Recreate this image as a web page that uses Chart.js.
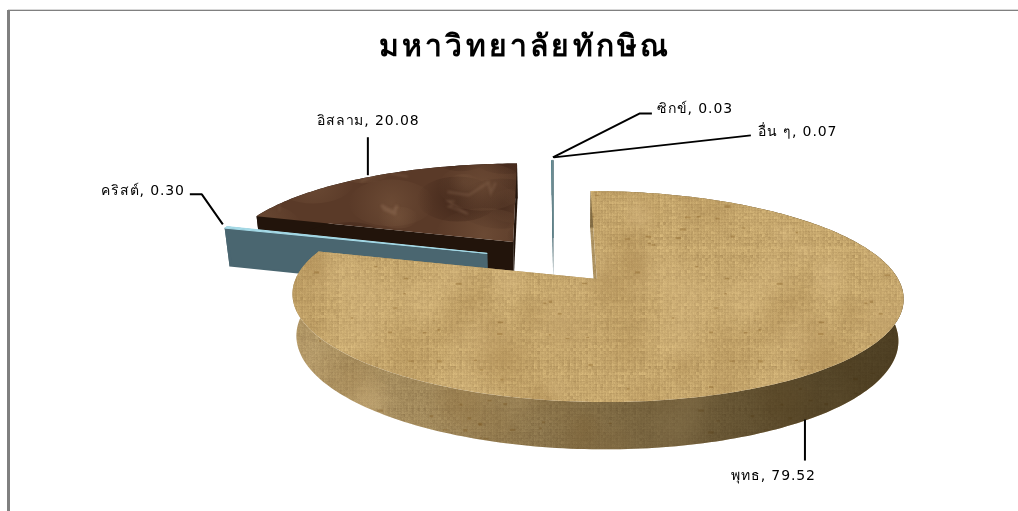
<!DOCTYPE html>
<html><head><meta charset="utf-8">
<style>html,body{margin:0;padding:0;background:#fff;overflow:hidden}#w{width:1018px;height:511px}</style>
<script src="https://cdn.jsdelivr.net/npm/chart.js@4"></script>
</head><body><div id="w"><canvas id="c" width="1018" height="511"></canvas></div>
<script>
const categories = ['พุทธ', 'คริสต์', 'อิสลาม', 'ซิกข์', 'อื่น ๆ'];
const shares = [79.52, 0.30, 20.08, 0.03, 0.07];
const chartTitle = 'มหาวิทยาลัยทักษิณ';

// seeded texture noise (surface decoration only, not data)
let seed = 12345;
const rnd = () => (seed = (seed * 1664525 + 1013904223) >>> 0) / 4294967296;
// paint a blob on every side of the tile so the repeated pattern shows no seam
function wrapped(n, fn) {
  for (const dx of [-n, 0, n]) for (const dy of [-n, 0, n]) fn(dx, dy);
}

function burlap(r, g, b, weave) {
  const n = 321, cv = document.createElement('canvas'); cv.width = cv.height = n;
  const x = cv.getContext('2d'), im = x.createImageData(n, n);
  const cell = 3, cols = [], rows = [];
  for (let i = 0; i < n; i++) { cols.push(rnd() * 22 - 11); rows.push(rnd() * 22 - 11); }
  const side = Math.floor(n / cell) + 1, patch = [];
  for (let k = 0; k < side * side; k++) patch.push(rnd() * 22 - 11);
  for (let j = 0; j < n; j++) for (let i = 0; i < n; i++) {
    const ci = Math.floor(i / cell), cj = Math.floor(j / cell);
    const thread = (ci + cj) % 2 === 0 ? cols[ci] : rows[cj];
    const w = (thread * 0.7 + patch[cj * side + ci] * 0.5 +
      (i % cell === 0 ? 7 : 0) + (j % cell === 0 ? -6 : 0)) * weave + rnd() * 12 - 6;
    const k = (j * n + i) * 4;
    im.data[k] = r + w; im.data[k + 1] = g + w; im.data[k + 2] = b + w * 0.8; im.data[k + 3] = 255;
  }
  x.putImageData(im, 0, 0);
  for (let i = 0; i < 60; i++) {
    const gx0 = rnd() * n, gy0 = rnd() * n, gr = 14 + rnd() * 30;
    const c = rnd() > 0.5 ? '225,195,140' : '160,125,70';
    wrapped(n, (dx, dy) => {
      const gx = gx0 + dx, gy = gy0 + dy;
      const gd = x.createRadialGradient(gx, gy, 0, gx, gy, gr);
      gd.addColorStop(0, 'rgba(' + c + ',0.25)'); gd.addColorStop(1, 'rgba(' + c + ',0)');
      x.fillStyle = gd; x.fillRect(gx - gr, gy - gr, gr * 2, gr * 2);
    });
  }
  for (let i = 0; i < 90; i++) {
    x.fillStyle = 'rgba(135,98,40,0.42)';
    x.fillRect(rnd() * n, rnd() * n, 2 + rnd() * 4, 1 + rnd() * 1.5);
  }
  return cv;
}
function marble() {
  const n = 300, cv = document.createElement('canvas'); cv.width = cv.height = n;
  const x = cv.getContext('2d');
  x.fillStyle = '#5a3a28'; x.fillRect(0, 0, n, n);
  for (let i = 0; i < 70; i++) {
    const gx0 = rnd() * n, gy0 = rnd() * n, gr = 14 + rnd() * 36;
    const c = rnd() > 0.5 ? '52,28,18' : '118,84,60';
    wrapped(n, (dx, dy) => {
      const gx = gx0 + dx, gy = gy0 + dy;
      const g = x.createRadialGradient(gx, gy, 0, gx, gy, gr);
      g.addColorStop(0, 'rgba(' + c + ',0.6)'); g.addColorStop(1, 'rgba(' + c + ',0)');
      x.fillStyle = g; x.beginPath(); x.ellipse(gx, gy, gr, gr * 0.55, 0, 0, 7); x.fill();
    });
  }
  x.filter = 'blur(1.2px)';
  for (let i = 0; i < 34; i++) {
    x.strokeStyle = 'rgba(150,115,88,' + (0.25 + rnd() * 0.4) + ')';
    x.lineWidth = 1 + rnd() * 2.5;
    const pts = [[rnd() * n, rnd() * n]];
    for (let k = 0; k < 4; k++) {
      const l = pts[pts.length - 1];
      pts.push([l[0] + rnd() * 50 - 25, l[1] + rnd() * 26 - 13]);
    }
    wrapped(n, (dx, dy) => {
      x.beginPath();
      pts.forEach((p, k) => k ? x.lineTo(p[0] + dx, p[1] + dy) : x.moveTo(p[0] + dx, p[1] + dy));
      x.stroke();
    });
  }
  x.filter = 'none';
  return cv;
}
const cx2d = document.getElementById('c').getContext('2d');
const sandTop = cx2d.createPattern(burlap(197, 166, 108, 1), 'repeat');
const sandWall = cx2d.createPattern(burlap(172, 146, 98, 0.75), 'repeat');
const stoneTop = cx2d.createPattern(marble(), 'repeat');
const topFills = [sandTop, '#a6dbe8', stoneTop, '#4f7f88', '#6f8c92'];
const wallFills = [sandWall, '#4a6670', '#22140b', '#3f6670', '#5f7478'];

// projection of the pie plane
const PIE_SHIFT = 28.5, SCREEN_Y = 260, TILT = 0.33, PERSP = 0.00055, DEPTH = 40, BASE_SCALE = 0.985;
function project(p, u, v, low) {
  const w = 1 - PERSP * v, s = low ? BASE_SCALE : 1;
  return [p.x + PIE_SHIFT + (u / w) * s, SCREEN_Y + (TILT * v / w) * s + (low ? DEPTH / w : 0)];
}
function sliceGeom(el) {
  const a = el.getProps(['x', 'y', 'startAngle', 'endAngle', 'outerRadius'], true);
  const mid = (a.startAngle + a.endAngle) / 2, off = (el.options.offset || 0) / 4;
  const cu = Math.cos(mid) * off, cv = Math.sin(mid) * off, R = a.outerRadius;
  const at = (ang, low) => project(a, cu + R * Math.cos(ang), cv + R * Math.sin(ang), low);
  const apex = low => project(a, cu, cv, low);
  return { a, mid, at, apex };
}
function arcPts(g, low, rev) {
  const n = Math.max(2, Math.ceil((g.a.endAngle - g.a.startAngle) / 0.02)), pts = [];
  for (let i = 0; i <= n; i++) pts.push(g.at(g.a.startAngle + (g.a.endAngle - g.a.startAngle) * i / n, low));
  return rev ? pts.reverse() : pts;
}
function poly(ctx, pts, fill) {
  ctx.beginPath(); pts.forEach((p, i) => i ? ctx.lineTo(p[0], p[1]) : ctx.moveTo(p[0], p[1]));
  ctx.closePath(); ctx.fillStyle = fill; ctx.fill();
}
const sliceOrder = [2, 3, 4, 1, 0];
const leaderRoutes = {
  0: { low: true, from: [-3, 0], path: [[0, 41]], text: [-74, 57] },
  1: { from: [-3, -3], path: [[-21, -30], [-33, -30]], text: [-122, -33] },
  2: { from: [0, -2], path: [[0, -38]], text: [-51, -54] },
  3: { from: [1, -3], path: [[87, -44], [99, -44]], text: [104, -48] },
  4: { from: [1, -3], path: [[197, -22]], text: [204, -25] }
};
const piePlugin = {
  id: 'pie3d',
  beforeDraw(chart) {
    const c = chart.ctx;
    c.fillStyle = '#fff'; c.fillRect(0, 0, 1018, 511);
    c.fillStyle = '#d8d8d8'; c.fillRect(8, 9, 1010, 1);
    c.fillStyle = '#808080'; c.fillRect(8, 10, 1010, 1); c.fillRect(7, 10, 3, 501);
    c.letterSpacing = '3.2px';
  },
  beforeDatasetDraw(chart) {
    const c = chart.ctx, els = chart.getDatasetMeta(0).data;
    c.letterSpacing = '0px';
    c.save();
    sliceOrder.forEach(i => {
      const g = sliceGeom(els[i]), wall = wallFills[i];
      const startEdge = [g.apex(false), g.at(g.a.startAngle, false), g.at(g.a.startAngle, true), g.apex(true)];
      const endEdge = [g.apex(false), g.at(g.a.endAngle, false), g.at(g.a.endAngle, true), g.apex(true)];
      poly(c, startEdge, wall); poly(c, endEdge, wall);
      poly(c, arcPts(g, false).concat(arcPts(g, true, true)), wall);
      if (i === 0) {
        const sh = c.createLinearGradient(297, 0, 904, 0);
        sh.addColorStop(0, 'rgba(60,45,20,0.0)');
        sh.addColorStop(0.25, 'rgba(55,42,18,0.12)');
        sh.addColorStop(0.55, 'rgba(50,38,15,0.42)');
        sh.addColorStop(0.85, 'rgba(40,30,10,0.66)');
        sh.addColorStop(1, 'rgba(40,30,10,0.72)');
        poly(c, arcPts(g, false).concat(arcPts(g, true, true)), sh);
      }
      const top = [g.apex(false)].concat(arcPts(g, false));
      poly(c, top, els[i].options.backgroundColor);
      if (i !== 0 && i !== 2) { // hairline slices stay visible
        c.strokeStyle = els[i].options.backgroundColor; c.lineWidth = 1;
        c.beginPath(); top.forEach((p, k) => k ? c.lineTo(p[0], p[1]) : c.moveTo(p[0], p[1])); c.closePath(); c.stroke();
      }
    });
    c.restore();
    return false;
  },
  afterDatasetsDraw(chart) {
    const c = chart.ctx, els = chart.getDatasetMeta(0).data;
    c.save();
    categories.forEach((name, i) => {
      const g = sliceGeom(els[i]), r = leaderRoutes[i], e = g.at(g.mid, !!r.low);
      const s = [e[0] + r.from[0], e[1] + r.from[1]];
      c.strokeStyle = '#000'; c.lineWidth = 2; c.lineJoin = 'round';
      c.beginPath(); c.moveTo(s[0], s[1]);
      r.path.forEach(d => c.lineTo(s[0] + d[0], s[1] + d[1])); c.stroke();
      c.fillStyle = '#000'; c.font = '14px "DejaVu Sans", "Noto Sans", sans-serif';
      c.letterSpacing = '0.9px';
      c.textAlign = 'left'; c.textBaseline = 'middle';
      c.fillText(name + ', ' + shares[i].toFixed(2), s[0] + r.text[0], s[1] + r.text[1]);
    });
    c.restore();
  }
};
new Chart(document.getElementById('c'), {
  type: 'pie',
  data: { labels: categories, datasets: [{ data: shares, backgroundColor: topFills, borderWidth: 0, offset: 280 }] },
  options: {
    responsive: false, animation: false, radius: 292,
    layout: { padding: { left: 32 } },
    plugins: {
      legend: { display: false }, tooltip: { enabled: false },
      title: { display: true, text: chartTitle, color: '#000', align: 'center',
        padding: { top: 30, bottom: 0 },
        font: { family: '"Liberation Serif", "Noto Sans", serif', size: 30, weight: 'bold' } }
    }
  },
  plugins: [piePlugin]
});
</script></body></html>
